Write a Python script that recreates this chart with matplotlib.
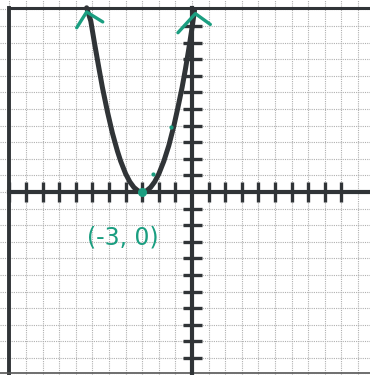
import numpy as np
import matplotlib.pyplot as plt

# points read along the hand-drawn parabola, vertex at (-3, 0)
curve_x = [-6.35, -6.1, -5.9, -5.6, -5.4, -5.1, -4.8, -4.5, -4.3, -4.0, -3.75, -3.5, -3.25,
           -3.0, -2.75, -2.5, -2.25, -2.0, -1.7, -1.4, -1.1, -0.85, -0.6, -0.4, -0.2, 0.0, 0.15]
curve_y = [11.1, 10.3, 9.1, 7.4, 6.3, 4.85, 3.56, 2.48, 1.86, 1.1, 0.62, 0.28, 0.07,
           0.0, 0.07, 0.28, 0.62, 1.1, 1.86, 2.8, 3.97, 5.1, 6.3, 7.4, 8.6, 9.9, 10.95]
vertex = (-3, 0)
marked_pts = [(-2.35, 1.1), (-1.25, 3.9)]
label = '(-3, 0)'

x_ticks = [t for t in range(-11, 10) if t != 0]
y_ticks = [t for t in range(-10, 11) if t != 0]

ink = '#303437'
green = '#1a9e80'

fig = plt.figure(figsize=(3.7, 3.75), dpi=100)
ax = fig.add_axes([0, 0, 1, 1])
ax.set_xlim(-11.57, 10.72)
ax.set_ylim(-11.02, 11.57)
ax.axis('off')

# graph paper
for v in range(-11, 11):
    ax.axvline(v, color='#b0b0b0', lw=0.8, ls=(0, (1, 1)), zorder=1)
for v in range(-11, 12):
    ax.axhline(v, color='#b0b0b0', lw=0.8, ls=(0, (1, 1)), zorder=1)

# frame
ax.plot([-11.05, 10.72], [11.1, 11.1], color=ink, lw=2.2, zorder=2)
ax.plot([-11.05, -11.05], [-11.02, 11.1], color=ink, lw=2.8, zorder=2)
ax.plot([-11.57, 10.72], [-10.9, -10.9], color='#555555', lw=1.2, zorder=2)

# axes with tick marks
ax.plot([-11.05, 10.72], [0, 0], color=ink, lw=3.0, zorder=3)
ax.plot([0, 0], [-11.02, 11.1], color=ink, lw=3.0, zorder=3)
for t in x_ticks:
    ax.plot([t, t], [-0.62, 0.62], color=ink, lw=2.4, solid_capstyle='butt', zorder=3)
for t in y_ticks:
    ax.plot([-0.55, 0.62], [t, t], color=ink, lw=2.4, solid_capstyle='butt', zorder=3)

# parabola
ax.plot(curve_x, curve_y, color=ink, lw=3.6, solid_capstyle='round',
        solid_joinstyle='round', zorder=4)

# arrowheads at both ends
def chevron(x0, y0, left, right):
    ax.plot([x0 + left[0], x0, x0 + right[0]], [y0 + left[1], y0, y0 + right[1]],
            color=green, lw=2.4, solid_capstyle='round', zorder=5)

chevron(curve_x[0], curve_y[0] - 0.25, (-0.6, -0.95), (0.97, -0.6))
chevron(curve_x[-1] + 0.05, curve_y[-1] - 0.2, (-1.05, -1.15), (0.9, -0.65))

# vertex and marked points
ax.plot(*vertex, 'o', color=green, ms=5.5, zorder=6)
for px, py in marked_pts:
    ax.plot(px, py, 'o', color=green, ms=2.0, zorder=6)

ax.text(-4.2, -2.75, label, color=green, fontsize=17, ha='center', va='center',
        zorder=6)

fig.savefig('out.png', dpi=100)
